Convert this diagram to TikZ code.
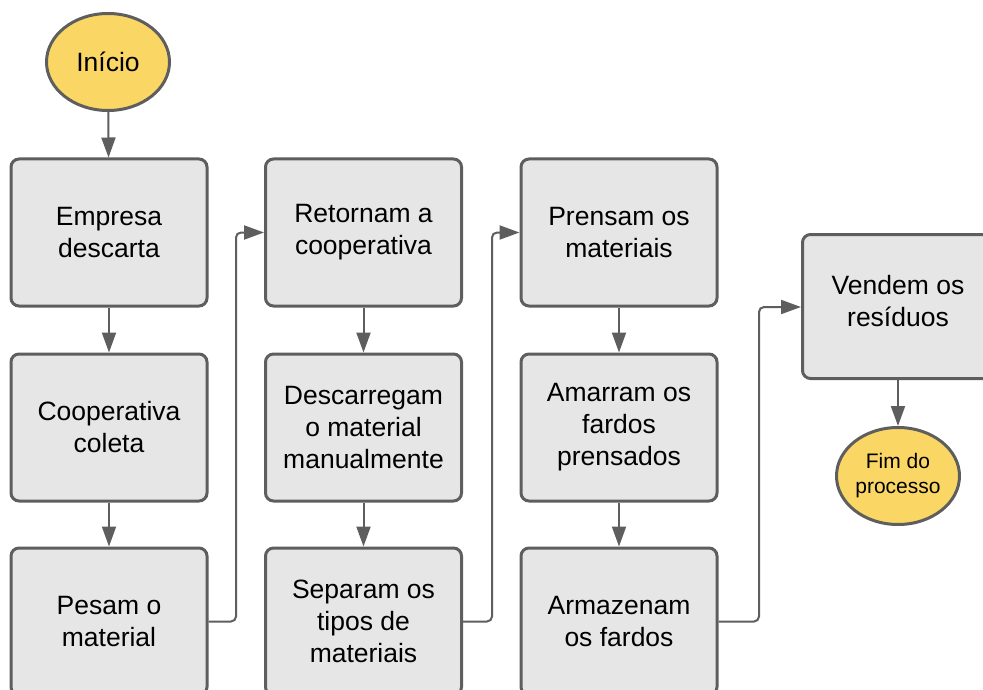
\documentclass[tikz,border=0pt]{standalone}
\usepackage{fontspec}
\setmainfont{Liberation Sans}
\usetikzlibrary{arrows.meta,shapes.geometric}
\definecolor{boxfill}{HTML}{E6E6E6}
\definecolor{edge}{HTML}{5E5E5E}
\definecolor{startfill}{HTML}{FAD765}
\tikzset{
  px/.style={x=1pt,y=-1pt},
  boxfont/.style={font=\fontsize{26.5}{32}\selectfont},
  stepbox/.style={draw=edge, line width=3pt, fill=boxfill, rounded corners=8pt,
    minimum width=196pt, minimum height=147pt, inner sep=0pt, align=center, boxfont},
  lastbox/.style={stepbox, minimum height=144pt},
  terminal/.style={ellipse, draw=edge, line width=3pt, fill=startfill,
    minimum width=123pt, minimum height=97pt, inner sep=0pt, align=center},
  conn/.style={draw=edge, line width=2pt, rounded corners=5pt,
    -{Triangle[length=20pt,width=14pt]}},
}
\begin{document}
\begin{tikzpicture}[px]
\useasboundingbox (0,0) rectangle (983,690);
\clip (0,0) rectangle (983,690);
\fill[white] (0,0) rectangle (983,690);
\node[terminal, boxfont] (start) at (108,62) {Início};
\node[stepbox] (a1) at (109,232.5) {Empresa\\descarta};
\node[stepbox] (a2) at (109,427.5) {Cooperativa\\coleta};
\node[stepbox] (a3) at (109,621.5) {Pesam o\\material};
\node[stepbox] (b1) at (363.5,232.5) {Retornam a\\cooperativa};
\node[stepbox] (b2) at (363.5,427.5) {Descarregam\\o material\\manualmente};
\node[stepbox] (b3) at (363.5,621.5) {Separam os\\tipos de\\materiais};
\node[stepbox] (c1) at (619,232.5) {Prensam os\\materiais};
\node[stepbox] (c2) at (619,427.5) {Amarram os\\fardos\\prensados};
\node[stepbox] (c3) at (619,621.5) {Armazenam\\os fardos};
\node[lastbox, anchor=north west] (d1) at (801,233) {\hspace*{0pt}};
\node[boxfont, align=center] (d1t) at (898,301) {Vendem os\\resíduos};
\node[terminal, font=\fontsize{21}{25}\selectfont] (end) at (898,476) {Fim do\\processo};
\draw[conn] (start) -- (a1);
\draw[conn] (a1) -- (a2);
\draw[conn] (a2) -- (a3);
\draw[conn] (b1) -- (b2);
\draw[conn] (b2) -- (b3);
\draw[conn] (c1) -- (c2);
\draw[conn] (c2) -- (c3);
\draw[conn] (a3.east) -| (236,232.5) -- (b1.west);
\draw[conn] (b3.east) -| (492,232.5) -- (c1.west);
\draw[conn] (c3.east) -| (759,307) -- (d1.west |- 0,307);
\draw[conn] (d1t.center |- d1.south) -- (end);
\end{tikzpicture}
\end{document}
